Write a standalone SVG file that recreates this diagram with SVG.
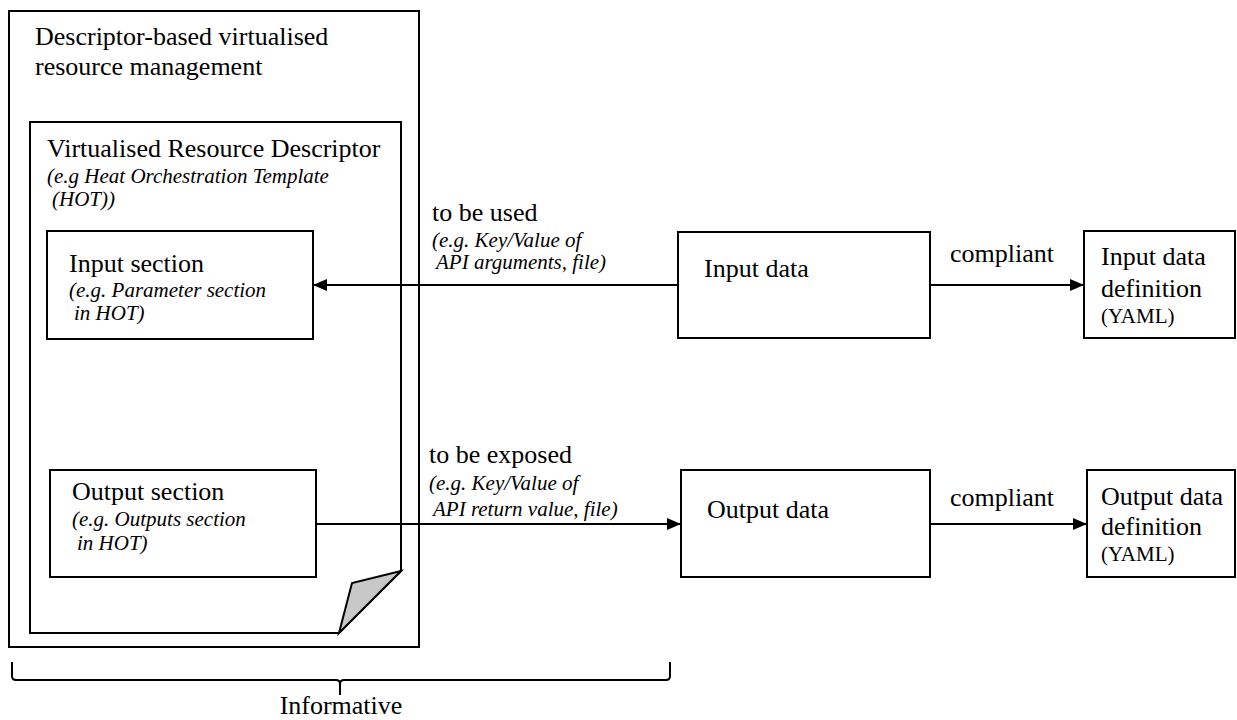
<svg xmlns="http://www.w3.org/2000/svg" width="1237" height="720" viewBox="0 0 1237 720">
<style>
.box{fill:#fff;stroke:#000;stroke-width:2}
.t{font-family:"Liberation Serif","Times New Roman",serif;font-size:26px;fill:#000}
.i{font-family:"Liberation Serif","Times New Roman",serif;font-size:21px;font-style:italic;fill:#000}
.s{font-family:"Liberation Serif","Times New Roman",serif;font-size:21px;fill:#000}
.ln{fill:none;stroke:#000;stroke-width:2}
</style>
<defs>
<marker id="ah" markerWidth="14" markerHeight="12" refX="14" refY="6" orient="auto" markerUnits="userSpaceOnUse">
<path d="M0,0 L14,6 L0,12 Z" fill="#000"/>
</marker>
</defs>
<rect width="1237" height="720" fill="#fff"/>
<g id="outer">
<rect class="box" x="9" y="11" width="410" height="636"/>
<text class="t" x="35" y="45">Descriptor-based virtualised</text>
<text class="t" x="35" y="75">resource management</text>
</g>
<g id="descriptor">
<path class="box" d="M30,122 H401 V571 L339,633 H30 Z"/>
<polygon points="401,571 352,583 339,633" fill="#c8c8c8" stroke="#000" stroke-width="2" stroke-linejoin="miter"/>
<text class="t" x="47" y="157">Virtualised Resource Descriptor</text>
<text class="i" x="47" y="183">(e.g Heat Orchestration Template</text>
<text class="i" x="52" y="206">(HOT))</text>
</g>
<g id="input-section">
<rect class="box" x="47" y="231" width="266" height="108"/>
<text class="t" x="69" y="272">Input section</text>
<text class="i" x="69" y="297">(e.g. Parameter section</text>
<text class="i" x="74" y="320">in HOT)</text>
</g>
<g id="output-section">
<rect class="box" x="50" y="470" width="266" height="107"/>
<text class="t" x="72" y="500">Output section</text>
<text class="i" x="72" y="526">(e.g. Outputs section</text>
<text class="i" x="77" y="550">in HOT)</text>
</g>
<g id="input-data">
<rect class="box" x="678" y="232" width="252" height="106"/>
<text class="t" x="704" y="277">Input data</text>
</g>
<g id="output-data">
<rect class="box" x="681" y="470" width="249" height="107"/>
<text class="t" x="707" y="518">Output data</text>
</g>
<g id="input-def">
<rect class="box" x="1084" y="231" width="151" height="107"/>
<text class="t" x="1101" y="265">Input data</text>
<text class="t" x="1101" y="297">definition</text>
<text class="s" x="1101" y="323">(YAML)</text>
</g>
<g id="output-def">
<rect class="box" x="1087" y="470" width="148" height="107"/>
<text class="t" x="1101" y="505">Output data</text>
<text class="t" x="1101" y="535">definition</text>
<text class="s" x="1101" y="561">(YAML)</text>
</g>
<g id="connectors">
<line class="ln" x1="678" y1="285" x2="313" y2="285" marker-end="url(#ah)"/>
<line class="ln" x1="316" y1="524" x2="681" y2="524" marker-end="url(#ah)"/>
<line class="ln" x1="930" y1="285" x2="1084" y2="285" marker-end="url(#ah)"/>
<line class="ln" x1="930" y1="524" x2="1087" y2="524" marker-end="url(#ah)"/>
<text class="t" x="432" y="221">to be used</text>
<text class="i" x="432" y="247">(e.g. Key/Value of</text>
<text class="i" x="436" y="269">API arguments, file)</text>
<text class="t" x="429" y="463">to be exposed</text>
<text class="i" x="429" y="490">(e.g. Key/Value of</text>
<text class="i" x="433" y="516">API return value, file)</text>
<text class="t" x="950" y="262">compliant</text>
<text class="t" x="950" y="506">compliant</text>
</g>
<g id="brace">
<path class="ln" d="M12,662 V676 Q12,680 16,680 H336 Q340,680 340,684 V695 M340,684 Q340,680 344,680 H666 Q670,680 670,676 V662" stroke-width="1.5"/>
<text class="t" x="341" y="714" text-anchor="middle">Informative</text>
</g>
</svg>
